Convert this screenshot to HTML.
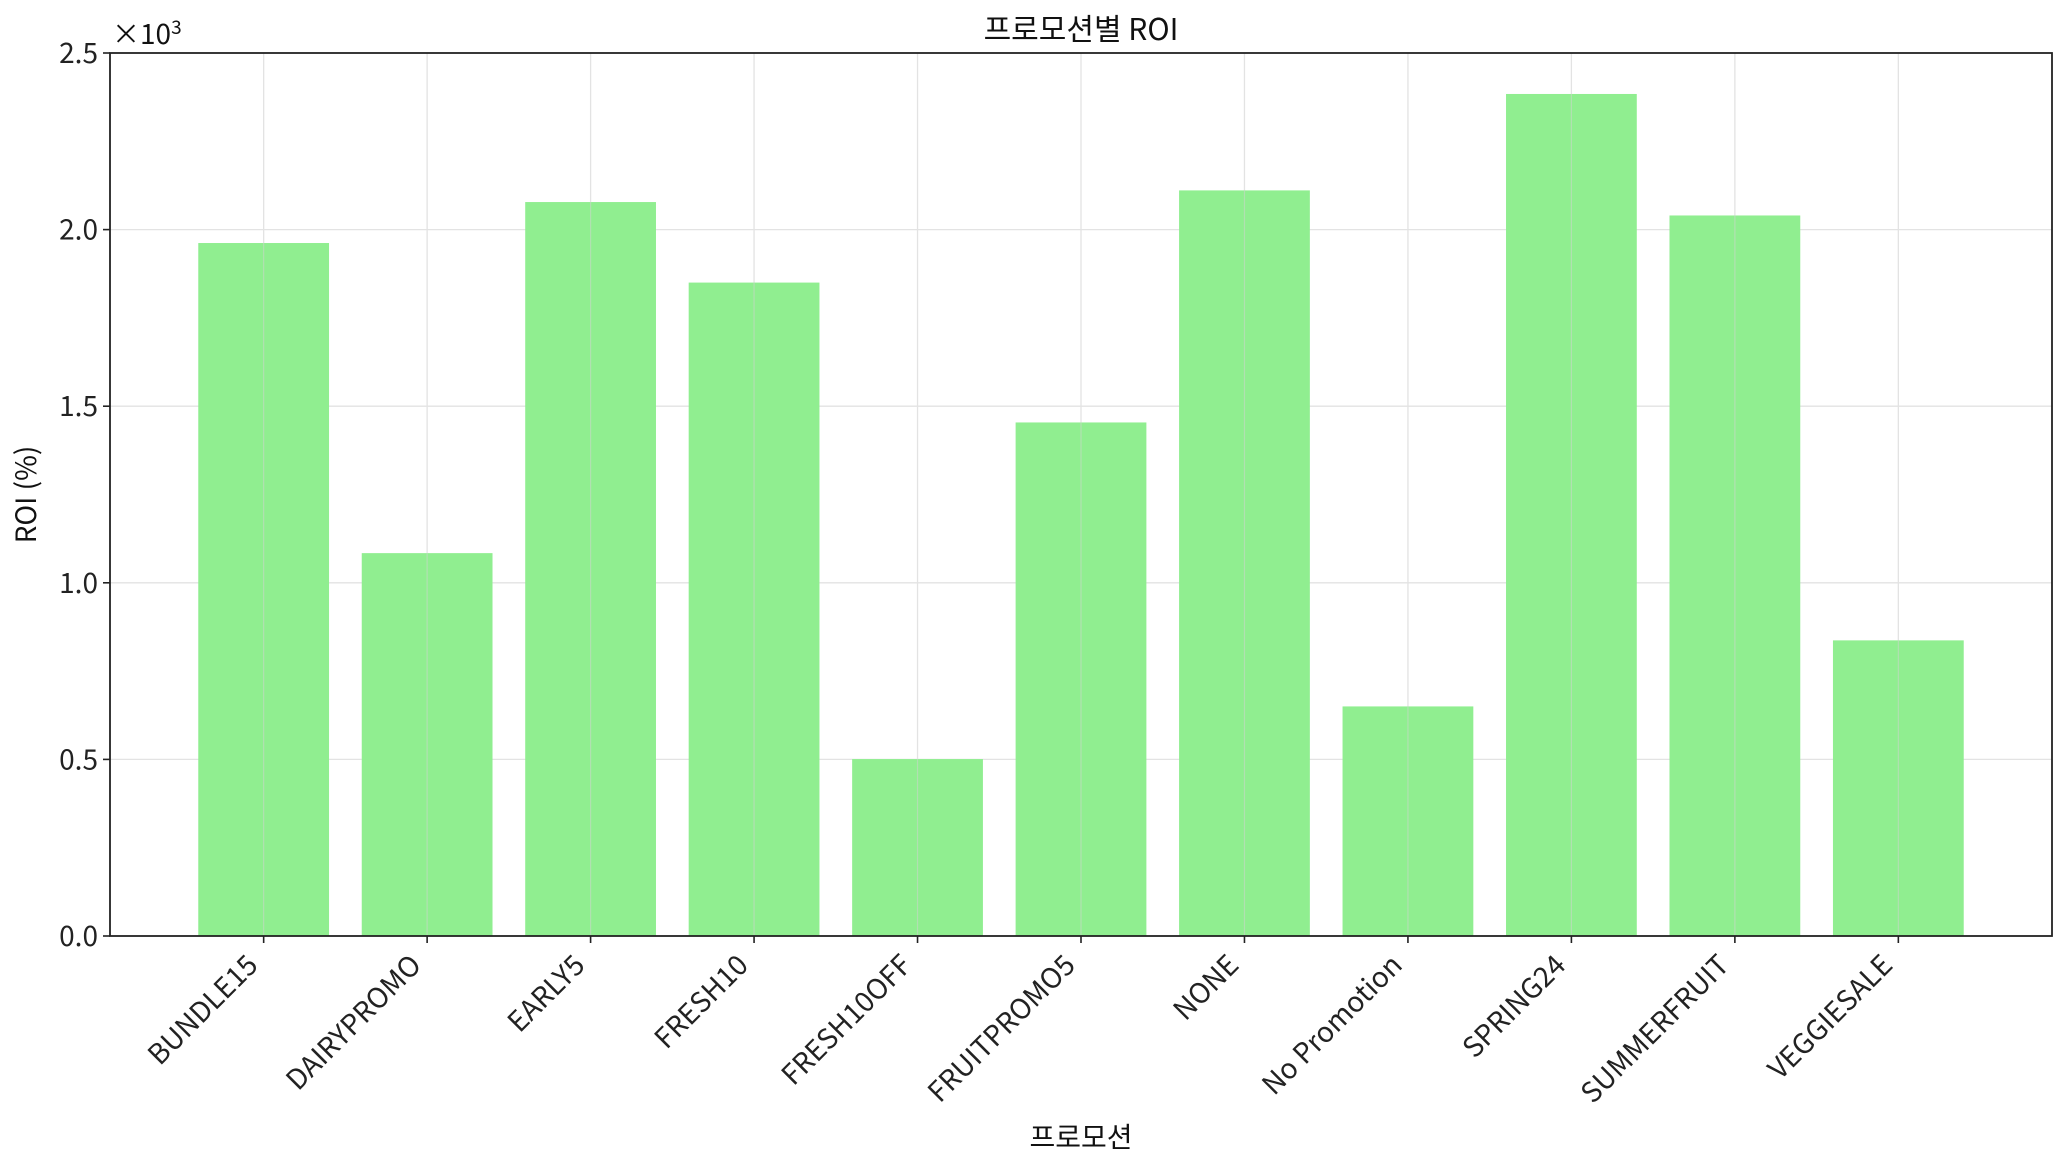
<!DOCTYPE html>
<html><head><meta charset="utf-8"><style>
body{margin:0;background:#fff}
svg{display:block;font-family:"Noto Sans CJK KR","Liberation Sans",sans-serif}
</style></head><body>
<svg id="chart" width="2067" height="1167">
<rect width="2067" height="1167" fill="#fff"/>
<g id="grid"></g><g id="bars"></g><g id="axes"></g>
</svg>
<script>
const categories=["BUNDLE15","DAIRYPROMO","EARLY5","FRESH10","FRESH10OFF","FRUITPROMO5","NONE","No Promotion","SPRING24","SUMMERFRUIT","VEGGIESALE"];
const roiValues=[1962,1084,2078,1850,501,1454,2111,650,2384,2040,837];
const yTicks=[0,500,1000,1500,2000,2500];
const yTickLabels=["0.0","0.5","1.0","1.5","2.0","2.5"];
const L=110,R=2052,T=53,B=936;
const xMin=-0.94,xMax=categories.length-1+0.94,yMax=2500;
const NS="http://www.w3.org/2000/svg";
function xs(i){return L+(i-xMin)/(xMax-xMin)*(R-L);}
function ys(v){return B-v/yMax*(B-T);}
function mk(p,t,a){const e=document.createElementNS(NS,t);for(const k in a)e.setAttribute(k,a[k]);p.appendChild(e);return e;}
const svg=document.getElementById('chart'),grid=document.getElementById('grid'),bars=document.getElementById('bars'),axes=document.getElementById('axes');
yTicks.forEach((v,i)=>{
 const g=mk(grid,'line',{x1:L,x2:R,y1:ys(v),y2:ys(v),stroke:'#e3e3e3','stroke-width':1.3});
 
 
 mk(axes,'line',{x1:L-7,x2:L,y1:ys(v),y2:ys(v),stroke:'#222','stroke-width':1.6});
 const t=mk(axes,'text',{x:L-12,y:ys(v)+10,'text-anchor':'end','font-size':28,fill:'#222'});
 t.textContent=yTickLabels[i];
 
 
});
const bw=0.8*(xs(1)-xs(0));
categories.forEach((c,i)=>{
 const x=xs(i);
 const gl=mk(grid,'line',{x1:x,x2:x,y1:T,y2:B,stroke:'#e3e3e3','stroke-width':1.3});
 
 
 const r=mk(bars,'rect',{x:x-bw/2,y:ys(roiValues[i]),width:bw,height:B-ys(roiValues[i]),fill:'#90ee90'});
 
 
 mk(bars,'line',{x1:x,x2:x,y1:ys(roiValues[i]),y2:B,stroke:'#c8d8c8','stroke-width':1.2,opacity:0.6});
 mk(axes,'line',{x1:x,x2:x,y1:B,y2:B+7,stroke:'#222','stroke-width':1.6});
 const t=mk(axes,'text',{transform:`translate(${x-19},${B+16}) rotate(-45)`,'text-anchor':'end','font-size':28,fill:'#222',dy:'0.75em'});
 t.textContent=c;
 
 
});
const fr=mk(axes,'rect',{x:L,y:T,width:R-L,height:B-T,fill:'none',stroke:'#222','stroke-width':1.8});


const ti=mk(axes,'text',{x:(L+R)/2,y:40,'text-anchor':'middle','font-size':30,fill:'#111'});ti.textContent='프로모션별 ROI';


const xl=mk(axes,'text',{x:(L+R)/2,y:1147,'text-anchor':'middle','font-size':28,fill:'#111'});xl.textContent='프로모션';


const yl=mk(axes,'text',{transform:`translate(36,${(T+B)/2}) rotate(-90)`,'text-anchor':'middle','font-size':28,fill:'#111'});yl.textContent='ROI (%)';


const ex=mk(axes,'text',{x:112,y:44,'font-size':28,fill:'#111'});ex.innerHTML='×10<tspan dy="-10" font-size="19">3</tspan>';


</script>
</body></html>
